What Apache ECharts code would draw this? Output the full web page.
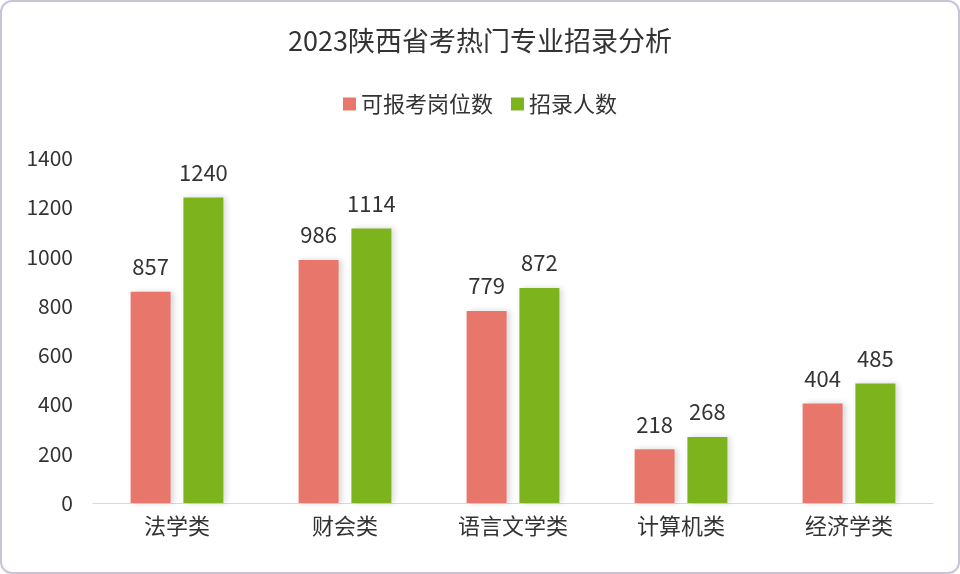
<!DOCTYPE html>
<html><head><meta charset="utf-8">
<script src="https://cdn.jsdelivr.net/npm/echarts@6/dist/echarts.min.js"></script>
<style>html,body{margin:0;padding:0;background:#fff}
#c{width:960px;height:574px;box-sizing:border-box;border:2px solid #c9c3d3;border-radius:12px}</style>
</head><body><div id="c"></div>
<script>
const categories=['法学类','财会类','语言文学类','计算机类','经济学类'];
const positions=[857,986,779,218,404];
const recruits=[1240,1114,872,268,485];
const yTicks=[0,200,400,600,800,1000,1200,1400];
const chart=echarts.init(document.getElementById('c'));
const font='"Noto Sans CJK SC", sans-serif';
const lbl={show:true,position:'top',distance:14,fontSize:22,color:'#333',fontFamily:font};
chart.setOption({
  title:{text:'2023陕西省考热门专业招录分析',left:'center',top:20,textStyle:{fontSize:27,fontWeight:'normal',color:'#333',fontFamily:font}},
  legend:{top:86,left:'center',itemWidth:13,itemHeight:13,itemGap:18,icon:'rect',textStyle:{fontSize:22,color:'#333',fontFamily:font}},
  grid:{left:91,right:25,top:156,bottom:69},
  xAxis:{type:'category',data:categories,axisTick:{show:false},axisLine:{lineStyle:{color:'#d9d9d9'}},
    axisLabel:{fontSize:22,color:'#333',margin:12,fontFamily:font}},
  yAxis:{type:'value',min:0,max:1400,interval:200,splitLine:{show:false},axisLine:{show:false},
    axisLabel:{fontSize:21,color:'#333',margin:20,fontFamily:font,formatter:v=>String(v)}},
  series:[
    {name:'可报考岗位数',type:'bar',data:positions,barWidth:40,barGap:'32%',
     itemStyle:{color:'#E8766A',shadowColor:'rgba(0,0,0,0.15)',shadowBlur:6,shadowOffsetX:3},label:lbl},
    {name:'招录人数',type:'bar',data:recruits,barWidth:40,
     itemStyle:{color:'#7DB41E',shadowColor:'rgba(0,0,0,0.15)',shadowBlur:6,shadowOffsetX:3},label:lbl}
  ]
});
</script></body></html>
